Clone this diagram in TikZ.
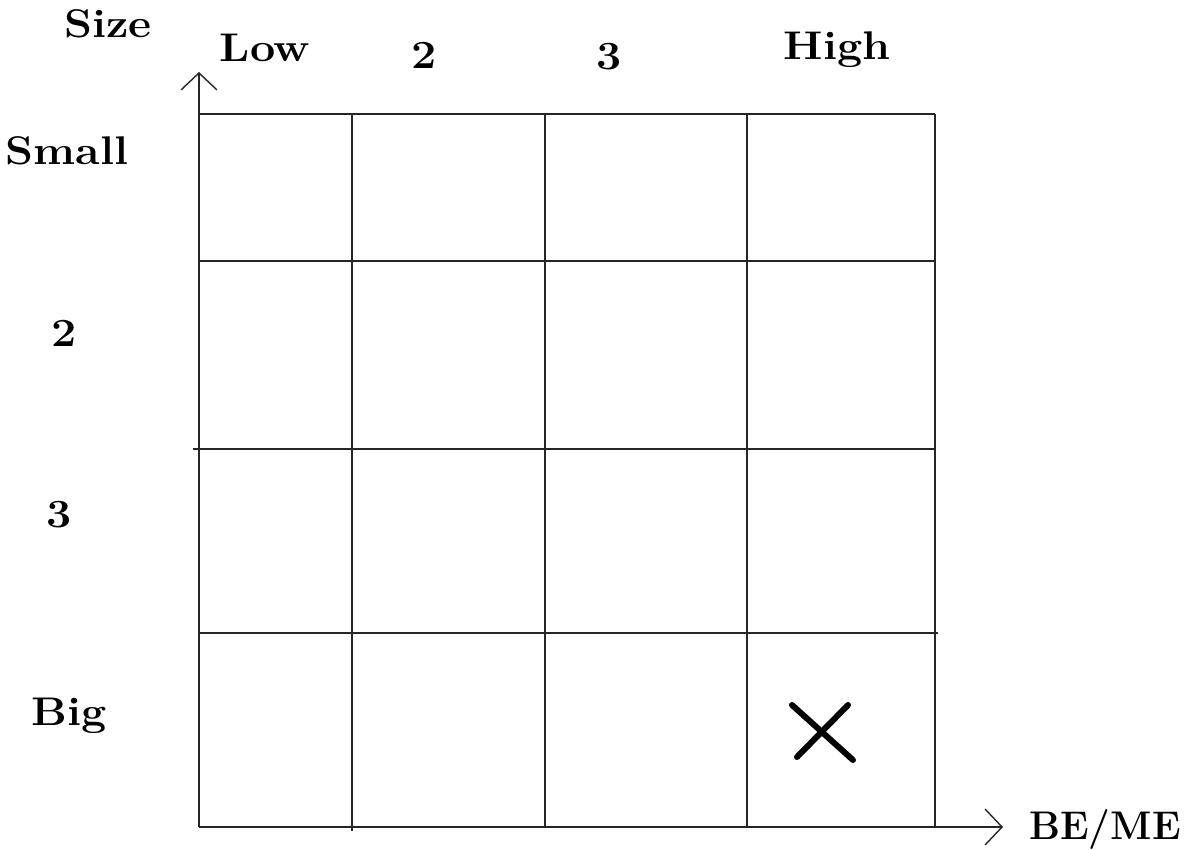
\documentclass[tikz,border=0pt]{standalone}
\usetikzlibrary{arrows.meta}
\newcommand{\widetxt}[1]{\scalebox{1.12}[1]{#1}}
\begin{document}
\begin{tikzpicture}[x=1pt,y=-1pt,
  grid/.style={line width=1.6pt,black!85},
  axis/.style={line width=1.6pt,black!85,-{Straight Barb[length=17pt,width=36pt,line width=1.4pt]}},
  lbl/.style={font=\fontsize{40}{44}\selectfont\bfseries,inner sep=0pt,anchor=center},
  xmark/.style={line width=6pt,line cap=round}]
\useasboundingbox (0,0) rectangle (1186,850);
% grid
\coordinate (o) at (199,827);
\coordinate (ytop) at (199,72);
\coordinate (xend) at (1003,827);
\draw[grid] (199,114) -- (935,114);
\draw[grid] (199,261) -- (935,261);
\draw[grid] (193,449) -- (935,449);
\draw[grid] (199,633) -- (938,633);
\draw[grid] (352,114) -- (352,831);
\draw[grid] (545,114) -- (545,827);
\draw[grid] (747,114) -- (747,827);
\draw[grid] (935,114) -- (935,827);
% axes
\draw[axis] (o) -- (ytop);
\draw[axis] (o) -- (xend);
% labels
\node[lbl] (size) at (108,24) {\widetxt{Size}};
\node[lbl] (low) at (265,48) {\widetxt{Low}};
\node[lbl] (c2) at (424,55) {\widetxt{2}};
\node[lbl] (c3) at (609,57) {\widetxt{3}};
\node[lbl] (high) at (837,50) {\widetxt{High}};
\node[lbl] (small) at (67,151) {\widetxt{Small}};
\node[lbl] (r2) at (64,333) {\widetxt{2}};
\node[lbl] (r3) at (59,515) {\widetxt{3}};
\node[lbl] (big) at (69,716) {\widetxt{Big}};
\node[lbl] (beme) at (1105,829) {\scalebox{0.97}[1]{BE/ME}};
% X mark
\coordinate (xa) at (792,705);
\coordinate (xb) at (853,760);
\coordinate (xc) at (848,705);
\coordinate (xd) at (797,757);
\draw[xmark] (xa) -- (xb);
\draw[xmark] (xc) -- (xd);
\end{tikzpicture}
\end{document}
